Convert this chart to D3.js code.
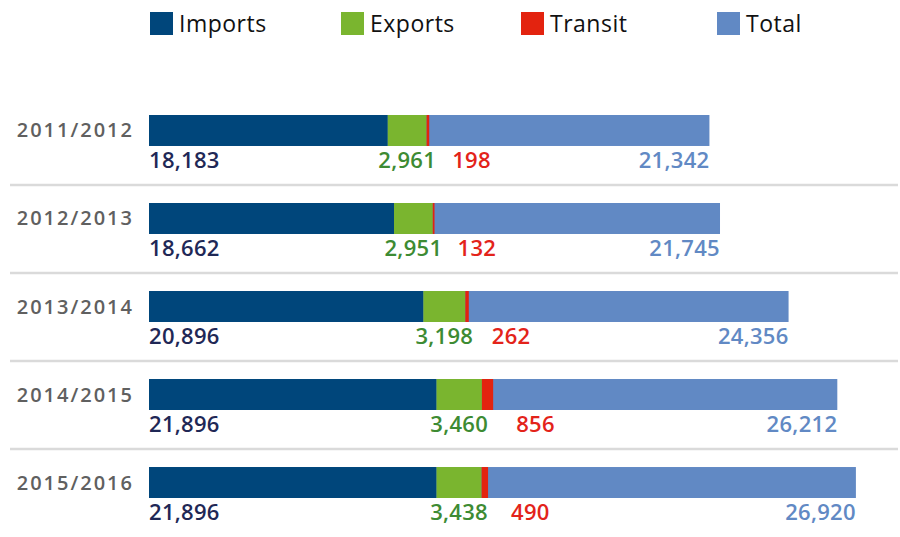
<!DOCTYPE html>
<html>
<head>
<meta charset="utf-8">
<script src="https://cdn.jsdelivr.net/npm/d3@7"></script>
<style>
  html, body { margin: 0; padding: 0; background: #fff; }
  svg { display: block; font-family: 'Open Sans', sans-serif; }
</style>
</head>
<body>
<div id="chart"></div>
<script>
'use strict';

const years = ['2011/2012', '2012/2013', '2013/2014', '2014/2015', '2015/2016'];
const imports = [18183, 18662, 20896, 21896, 21896];
const exports = [2961, 2951, 3198, 3460, 3438];
const transit = [198, 132, 262, 856, 490];
const totals = [21342, 21745, 24356, 26212, 26920];

const seriesNames = ['Imports', 'Exports', 'Transit', 'Total'];
const barColors = ['#00467b', '#7ab52f', '#e3230f', '#6189c4'];
const labelColors = ['#1f2856', '#3d8b33', '#e3231a', '#6189c4'];

const width = 900;
const height = 537;

const rows = years.map((year, i) => ({
  year: year,
  imports: imports[i],
  exports: exports[i],
  transit: transit[i],
  total: totals[i],
}));

const svg = d3.select('#chart')
  .append('svg')
    .attr('width', width)
    .attr('height', height);

// parts sit on a half scale, the total bar fills the rest underneath
const xPart = d3.scaleLinear().domain([0, 54000]).range([149, 858]);
const xTotal = d3.scaleLinear().domain([0, 27000]).range([149, 858]);

const y = d3.scaleBand()
  .domain(years)
  .range([115, 498])
  .paddingInner(0.648)
  .paddingOuter(0);

const stack = d3.stack().keys(['imports', 'exports', 'transit']);
const layers = stack(rows);

// legend
const legendX = [150, 341, 521, 717];
const legend = svg.append('g')
  .selectAll('g')
  .data(seriesNames)
  .join('g')
    .attr('transform', (d, i) => `translate(${legendX[i]},12)`);

legend.append('rect')
  .attr('width', 23)
  .attr('height', 23)
  .attr('fill', (d, i) => barColors[i]);

legend.append('text')
  .attr('x', 29)
  .attr('y', 20)
  .attr('font-size', 23)
  .attr('font-weight', 500)
  .attr('letter-spacing', 0.5)
  .attr('fill', '#111')
  .text((d) => d);

// separators between rows
svg.append('g')
  .selectAll('line')
  .data(years.slice(1))
  .join('line')
    .attr('x1', 10)
    .attr('x2', 898)
    .attr('y1', (d) => y(d) - 18)
    .attr('y2', (d) => y(d) - 18)
    .attr('stroke', '#dadada')
    .attr('stroke-width', 2.5);

// year labels
svg.append('g')
  .selectAll('text')
  .data(years)
  .join('text')
    .attr('x', 134)
    .attr('y', (d) => y(d) + y.bandwidth() / 2 + 7)
    .attr('text-anchor', 'end')
    .attr('font-size', 20)
    .attr('font-weight', 600)
    .attr('letter-spacing', 2)
    .attr('fill', '#606060')
    .text((d) => d);

// total bars
svg.append('g')
  .selectAll('rect')
  .data(rows)
  .join('rect')
    .attr('x', xTotal(0))
    .attr('y', (d) => y(d.year))
    .attr('width', (d) => xTotal(d.total) - xTotal(0))
    .attr('height', y.bandwidth())
    .attr('fill', barColors[3]);

// imports / exports / transit segments
svg.append('g')
  .selectAll('g')
  .data(layers)
  .join('g')
    .attr('fill', (d, i) => barColors[i])
  .selectAll('rect')
  .data((d) => d)
  .join('rect')
    .attr('x', (d) => xPart(d[0]))
    .attr('y', (d) => y(d.data.year))
    .attr('width', (d) => xPart(d[1]) - xPart(d[0]))
    .attr('height', y.bandwidth());

// value labels under the bars
const fmt = d3.format(',');
const labels = svg.append('g')
  .attr('font-size', 22)
  .attr('font-weight', 600)
  .attr('letter-spacing', 0.3);

const labelY = (d) => y(d.year) + y.bandwidth() + 22;

labels.selectAll('.imports')
  .data(layers[0])
  .join('text')
    .attr('class', 'imports')
    .attr('x', (d) => xPart(d[0]))
    .attr('y', (d) => labelY(d.data))
    .attr('fill', labelColors[0])
    .text((d) => fmt(d.data.imports));

labels.selectAll('.exports')
  .data(layers[1])
  .join('text')
    .attr('class', 'exports')
    .attr('x', (d) => (xPart(d[0]) + xPart(d[1])) / 2)
    .attr('y', (d) => labelY(d.data))
    .attr('text-anchor', 'middle')
    .attr('fill', labelColors[1])
    .text((d) => fmt(d.data.exports));

labels.selectAll('.transit')
  .data(layers[2])
  .join('text')
    .attr('class', 'transit')
    .attr('x', (d) => xPart(d[1]) + 23)
    .attr('y', (d) => labelY(d.data))
    .attr('fill', labelColors[2])
    .text((d) => fmt(d.data.transit));

labels.selectAll('.total')
  .data(rows)
  .join('text')
    .attr('class', 'total')
    .attr('x', (d) => xTotal(d.total))
    .attr('y', (d) => labelY(d))
    .attr('text-anchor', 'end')
    .attr('fill', labelColors[3])
    .text((d) => fmt(d.total));
</script>
</body>
</html>
